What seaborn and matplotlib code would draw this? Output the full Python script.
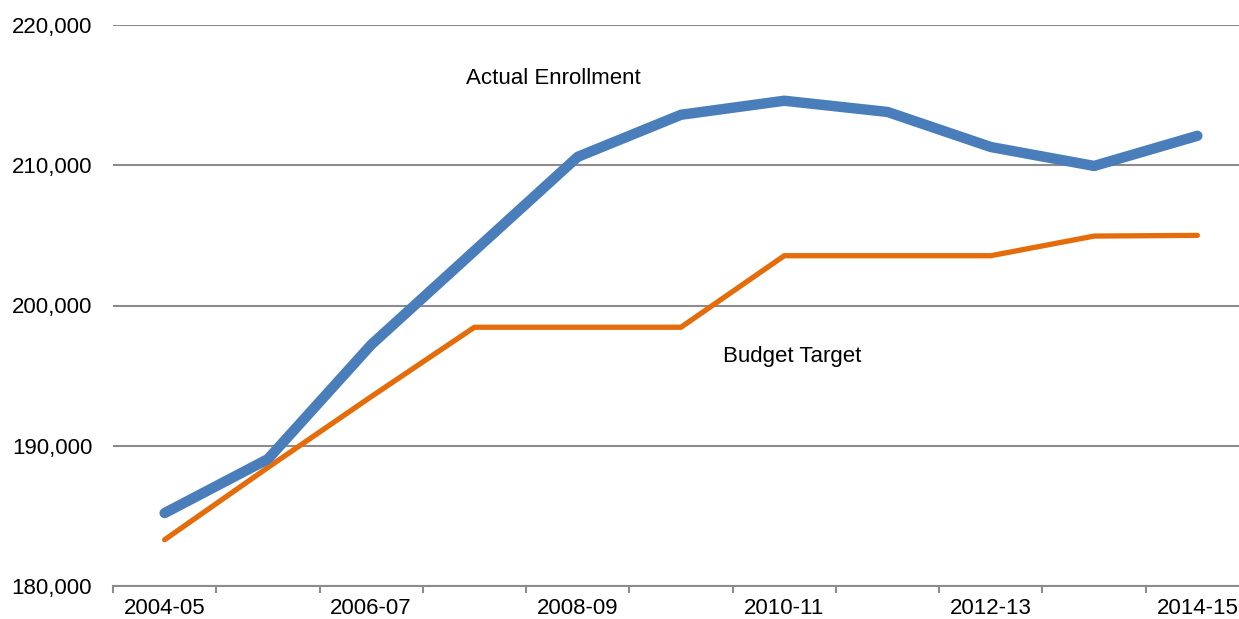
import pandas as pd
import matplotlib.pyplot as plt
import seaborn as sns

# values
years = ['2004-05', '2005-06', '2006-07', '2007-08', '2008-09', '2009-10',
         '2010-11', '2011-12', '2012-13', '2013-14', '2014-15']
actual = [185200, 189050, 197200, 203900, 210600, 213600,
          214600, 213800, 211300, 209950, 212100]
budget = [183300, 188450, 193500, 198450, 198450, 198450,
          203550, 203550, 203550, 204950, 205000]
label_years = ['2004-05', '2006-07', '2008-09', '2010-11', '2012-13', '2014-15']

df = pd.DataFrame({
    'pos': list(range(len(years))) * 2,
    'year': years * 2,
    'value': actual + budget,
    'series': ['Actual Enrollment'] * len(years) + ['Budget Target'] * len(years),
})

sns.set_style('white')
plt.rcParams['font.family'] = ['Liberation Sans', 'DejaVu Sans']
plt.rcParams['text.color'] = 'black'
plt.rcParams['xtick.color'] = 'black'
plt.rcParams['ytick.color'] = 'black'

fig = plt.figure(figsize=(12.39, 6.19), dpi=100)
ax = fig.add_axes([113 / 1239, 33 / 619, 1136 / 1239, 561 / 619])

palette = {'Actual Enrollment': '#4A7EBB', 'Budget Target': '#E46C0A'}
sns.lineplot(data=df[df.series == 'Actual Enrollment'], x='pos', y='value',
             color=palette['Actual Enrollment'], linewidth=7.5,
             solid_capstyle='round', solid_joinstyle='round', ax=ax, zorder=3)
sns.lineplot(data=df[df.series == 'Budget Target'], x='pos', y='value',
             color=palette['Budget Target'], linewidth=3.8,
             solid_capstyle='round', solid_joinstyle='round', ax=ax, zorder=2)

ax.set_xlim(-0.5, len(years) - 0.5)
ax.set_ylim(180000, 220000)
ax.set_yticks([180000, 190000, 200000, 210000, 220000])
ax.set_yticklabels([f'{v:,}' for v in ax.get_yticks().astype(int)], fontsize=16)
ax.grid(axis='y', color='#8C8C8C', linewidth=1.5)
ax.grid(axis='x', visible=False)

# tick marks between categories, labels at every other category
ax.set_xticks([i - 0.5 for i in range(len(years) + 1)])
ax.set_xticklabels([])
ax.set_xticks([years.index(y) for y in label_years], minor=True)
ax.set_xticklabels(label_years, minor=True, fontsize=16)
ax.tick_params(axis='x', which='major', bottom=True, length=5, width=1.5,
               color='#8C8C8C', direction='out')
ax.tick_params(axis='x', which='minor', bottom=True, length=0, pad=9, labelcolor='black')
ax.tick_params(axis='y', length=0, pad=15, labelcolor='black')

for s in ['left', 'right', 'top']:
    ax.spines[s].set_visible(False)
ax.spines['bottom'].set_color('#8C8C8C')
ax.spines['bottom'].set_linewidth(1.5)
ax.spines['bottom'].set_zorder(1)

ax.set_xlabel('')
ax.set_ylabel('')

ax.text(3.76, 216150, 'Actual Enrollment', fontsize=16, ha='center', va='center', color='black')
ax.text(6.08, 196330, 'Budget Target', fontsize=16, ha='center', va='center', color='black')

plt.savefig('out.png', dpi=100)
plt.close()
